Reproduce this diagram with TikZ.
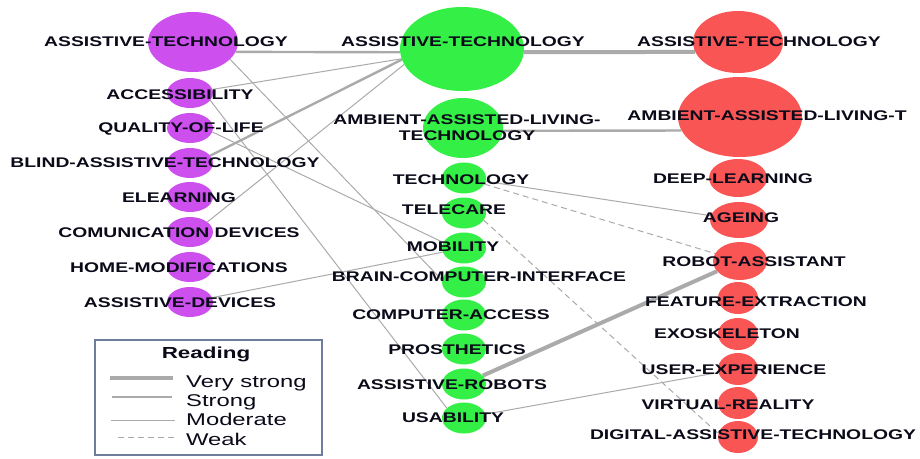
\documentclass[tikz,border=0pt]{standalone}
\usepackage{fontspec}
\setmainfont{Liberation Sans}
\newfontfamily\lblfont{Liberation Sans}[FakeStretch=1.38]
\newfontfamily\legfont{Liberation Sans}[FakeStretch=1.4]
\usetikzlibrary{shapes.geometric,backgrounds}

\definecolor{purp}{RGB}{205,80,238}
\definecolor{grn}{RGB}{52,240,70}
\definecolor{rd}{RGB}{250,85,85}
\definecolor{edgegray}{RGB}{170,170,170}
\definecolor{legblue}{RGB}{110,125,155}
\definecolor{ink}{RGB}{10,10,25}

\tikzset{
  pnode/.style={ellipse,fill=purp,minimum width=46pt,minimum height=30pt,inner sep=0pt},
  gnode/.style={ellipse,fill=grn,minimum width=44pt,minimum height=31pt,inner sep=0pt},
  rnode/.style={ellipse,fill=rd,minimum width=40pt,minimum height=32pt,inner sep=0pt},
  lbl/.style={font={\lblfont\bfseries\fontsize{14}{16}\selectfont},text=ink,inner sep=0pt},
  verystrong/.style={draw=edgegray,line width=4pt},
  strong/.style={draw=edgegray,line width=2.4pt},
  moderate/.style={draw=edgegray,line width=1pt},
  weak/.style={draw=edgegray,line width=1pt,dash pattern=on 6pt off 4pt},
  legtxt/.style={font={\legfont\fontsize{17}{19}\selectfont},text=ink,anchor=base west,inner sep=0pt}
}

\begin{document}
\begin{tikzpicture}[x=1pt,y=-1pt]
    \useasboundingbox (0,0) rectangle (920,458);
    % left column
    \node[pnode,minimum width=90pt,minimum height=60pt,label={[lbl,xshift=-27pt]center:ASSISTIVE-TECHNOLOGY}] at (193,42) (pat) {};
    \node[pnode,label={[lbl,xshift=-10pt,yshift=-2pt]center:ACCESSIBILITY}] at (190,93) (acc) {};
    \node[pnode,label={[lbl,xshift=-9pt,yshift=-1pt]center:QUALITY-OF-LIFE}] at (190,128) (qol) {};
    \node[pnode,label={[lbl,xshift=-25pt]center:BLIND-ASSISTIVE-TECHNOLOGY}] at (190,163) (blind) {};
    \node[pnode,label={[lbl,xshift=-11pt,yshift=-1pt]center:ELEARNING}] at (190,197) (elearn) {};
    \node[pnode,label={[lbl,xshift=-11pt,yshift=-1pt]center:COMUNICATION DEVICES}] at (190,232) (comm) {};
    \node[pnode,label={[lbl,xshift=-11pt,yshift=-1pt]center:HOME-MODIFICATIONS}] at (190,267) (home) {};
    \node[pnode,label={[lbl,xshift=-10pt,yshift=-1pt]center:ASSISTIVE-DEVICES}] at (190,302) (adev) {};
    % middle column
    \node[gnode,minimum width=124pt,minimum height=84pt,label={[lbl,xshift=1pt,yshift=7pt]center:ASSISTIVE-TECHNOLOGY}] at (462,49) (gat) {};
    \node[gnode,minimum width=80pt,minimum height=60pt,label={[lbl,align=center,xshift=4pt]center:AMBIENT-ASSISTED-LIVING-\\TECHNOLOGY}] at (463,128) (aal) {};
    \node[gnode,label={[lbl,xshift=-3pt,yshift=-2pt]center:TECHNOLOGY}] at (464,178) (tech) {};
    \node[gnode,label={[lbl,xshift=-10pt,yshift=3pt]center:TELECARE}] at (464,213) (tele) {};
    \node[gnode,label={[lbl,xshift=-11pt,yshift=1pt]center:MOBILITY}] at (464,248) (mob) {};
    \node[gnode,label={[lbl,xshift=15pt,yshift=5pt]center:BRAIN-COMPUTER-INTERFACE}] at (464,282) (bci) {};
    \node[gnode,label={[lbl,xshift=-13pt]center:COMPUTER-ACCESS}] at (464,315) (cacc) {};
    \node[gnode,label={[lbl,xshift=-7pt,yshift=-1pt]center:PROSTHETICS}] at (464,349) (pros) {};
    \node[gnode,label={[lbl,xshift=-12pt,yshift=-1pt]center:ASSISTIVE-ROBOTS}] at (464,384) (arob) {};
    \node[gnode,label={[lbl,xshift=-11pt]center:USABILITY}] at (464,418) (usab) {};
    % right column
    \node[rnode,minimum width=90pt,minimum height=62pt,label={[lbl,xshift=21pt]center:ASSISTIVE-TECHNOLOGY}] at (738,42) (rat) {};
    \node[rnode,minimum width=124pt,minimum height=80pt,label={[lbl,xshift=27pt,yshift=1pt]center:AMBIENT-ASSISTED-LIVING-T}] at (740,117) (aalt) {};
    \node[rnode,minimum width=58pt,minimum height=38pt,label={[lbl,xshift=-5pt,yshift=-1pt]center:DEEP-LEARNING}] at (738,178) (deep) {};
    \node[rnode,minimum width=58pt,minimum height=36pt,label={[lbl,xshift=2pt,yshift=2pt]center:AGEING}] at (739,220) (ageing) {};
    \node[rnode,minimum width=54pt,minimum height=38pt,label={[lbl,xshift=14pt,yshift=-1pt]center:ROBOT-ASSISTANT}] at (740,261) (robast) {};
    \node[rnode,label={[lbl,xshift=18pt,yshift=-4pt]center:FEATURE-EXTRACTION}] at (738,298) (feat) {};
    \node[rnode,label={[lbl,xshift=-11pt]center:EXOSKELETON}] at (738,334) (exo) {};
    \node[rnode,label={[lbl,xshift=-4pt,yshift=-1pt]center:USER-EXPERIENCE}] at (738,369) (ux) {};
    \node[rnode,label={[lbl,xshift=-10pt,yshift=-2pt]center:VIRTUAL-REALITY}] at (738,403) (vr) {};
    \node[rnode,label={[lbl,xshift=15pt,yshift=2pt]center:DIGITAL-ASSISTIVE-TECHNOLOGY}] at (738,437) (dat) {};
    % links
    \begin{pgfonlayer}{background}
    \draw[strong] (pat.-13) -- (gat.183);
    \draw[verystrong] (gat.-3) -- (rat.193);
    \draw[moderate] (acc) -- (gat);
    \draw[strong] (blind.20) -- (gat.190);
    \draw[moderate] (comm.30) -- (gat.195);
    \draw[moderate] (pat.-25) -- (bci.175);
    \draw[moderate] (acc.-20) -- (usab.150);
    \draw[moderate] (qol.-10) -- (mob.165);
    \draw[moderate] (adev) -- (mob);
    \draw[strong] (aal.-4) -- (aalt.193);
    \draw[moderate] (tech) -- (ageing);
    \draw[weak] (tech) -- (robast);
    \draw[weak] (tele.-20) -- (dat.170);
    \draw[verystrong] (arob) -- (robast);
    \draw[moderate] (usab) -- (ux);
    \end{pgfonlayer}
    % legend
    \node[draw=legblue,line width=1.5pt,minimum width=227pt,minimum height=115pt,inner sep=0pt] at (208.5,397.5) (legend) {};
    \node[legtxt,anchor=base,font={\legfont\bfseries\fontsize{16}{18}\selectfont}] at (206,358) (ltitle) {Reading};
    \draw[verystrong] (110,378) -- (173,378);
    \draw[strong] (112,397) -- (172,397);
    \draw[moderate] (111,420) -- (175,420);
    \draw[weak] (118,437) -- (177,437);
    \node[legtxt] at (186,387) (lvs) {Very strong};
    \node[legtxt] at (186,406) (ls) {Strong};
    \node[legtxt] at (186,425) (lm) {Moderate};
    \node[legtxt] at (186,445) (lw) {Weak};
\end{tikzpicture}
\end{document}
